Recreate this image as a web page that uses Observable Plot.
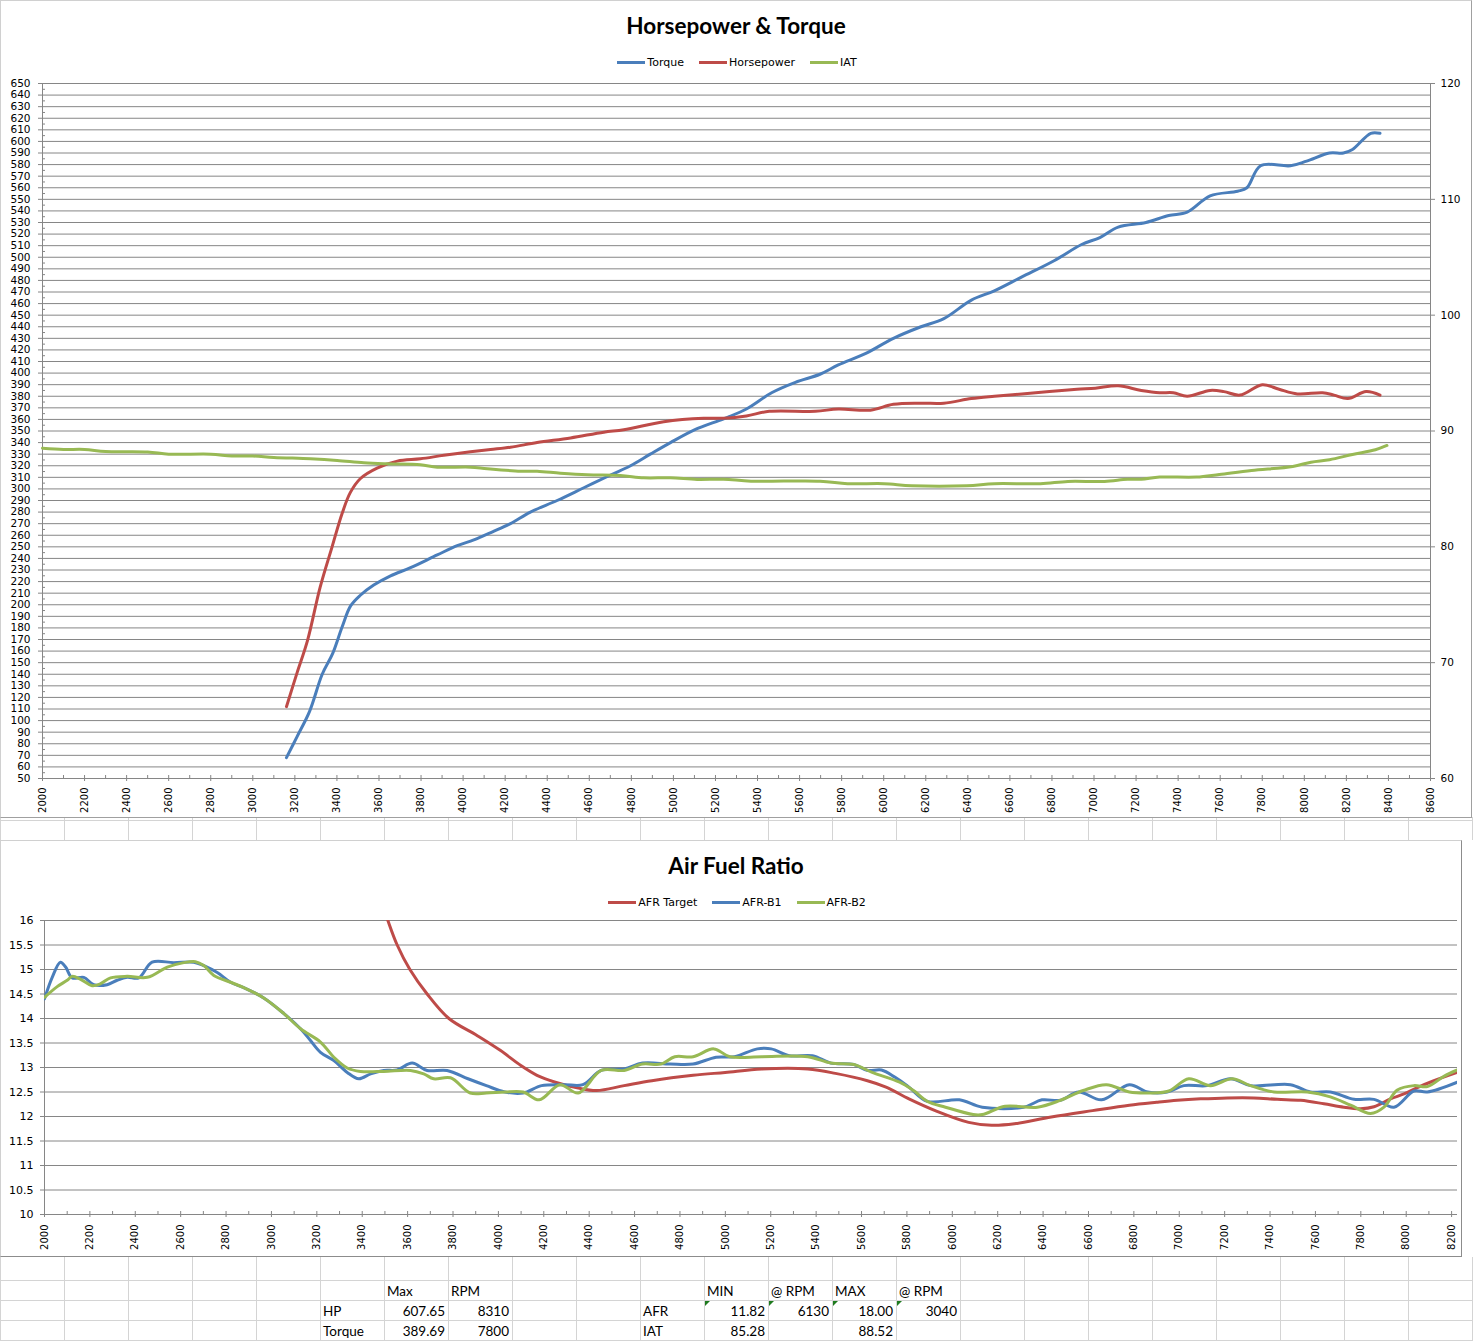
<!DOCTYPE html>
<html>
<head>
<meta charset="utf-8">
<script src="https://cdn.jsdelivr.net/npm/d3@7"></script>
<script src="https://cdn.jsdelivr.net/npm/@observablehq/plot@0.6"></script>
<style>
html,body{margin:0;padding:0;background:#fff;}
#page{position:relative;width:1473px;height:1341px;overflow:hidden;background:#fff;}
.vgrid{position:absolute;left:0;width:1473px;
  background-image:linear-gradient(to right,#d4d4d4 1px,transparent 1px);
  background-size:64px 100%;}
.hline{position:absolute;left:0;width:1473px;height:1px;background:#d4d4d4;}
.chart{position:absolute;left:0;background:#fff;}
.chart svg{position:absolute;left:0;top:0;}
.frame{position:absolute;box-sizing:border-box;pointer-events:none;}
.title{position:absolute;left:0;width:1472px;text-align:center;font:bold 22.5px/27px Lato,sans-serif;color:#000;top:12px;}
.legend{position:absolute;left:0;width:1474px;top:56px;display:flex;justify-content:center;align-items:center;font:11px/13px "DejaVu Sans",sans-serif;color:#000;}
.item{display:flex;align-items:center;margin:0 7.5px;}
.sw{width:28px;height:3px;margin-right:2px;}
.cell{position:absolute;font:13.5px/16px Lato,sans-serif;color:#000;white-space:nowrap;}
.tri{position:absolute;width:0;height:0;border-top:5px solid #1e7b1e;border-right:5px solid transparent;}
</style>
</head>
<body>
<div id="page"></div>
<script>
// ---------------- DATA ----------------
// Top chart: [rpm, value]
const torque = [[3160,68],[3210,86],[3270,108],[3330,140],[3380,158],[3425,181],[3465,199],[3510,208],[3575,217],[3655,225],[3750,232],[3877,243],[3972,251],[4051,256],[4140,263],[4225,270],[4320,280],[4447,290],[4574,301],[4701,312],[4796,320],[4890,330],[4986,340],[5100,351],[5216,359],[5260,362],[5347,369],[5467,383],[5580,392],[5697,399],[5784,407],[5915,417],[6046,430],[6177,440],[6286,447],[6417,463],[6526,471],[6657,483],[6810,497],[6941,511],[7028,517],[7115,526],[7247,530],[7355,536],[7443,539],[7552,553],[7683,557],[7727,560],[7792,579],[7934,579],[8011,583],[8120,590],[8186,590],[8229,593],[8316,607],[8360,607]];
const horsepower = [[3160,112],[3210,141],[3260,169],[3320,215],[3377,250],[3425,279],[3464,297],[3512,309],[3591,318],[3687,324],[3797,326],[3908,329],[4035,332],[4130,334],[4225,336],[4352,340],[4511,344],[4669,349],[4764,351],[4954,358],[5144,361],[5238,361],[5347,363],[5456,367],[5675,367],[5784,369],[5937,368],[6046,373],[6177,374],[6286,374],[6417,378],[6526,380],[6657,382],[6788,384],[6919,386],[7006,387],[7115,389],[7225,385],[7312,383],[7377,383],[7443,380],[7552,385],[7618,384],[7694,381],[7800,390],[7880,386],[7967,382],[8087,383],[8141,381],[8207,378],[8294,384],[8360,381]];
const iat = [[2000,88.52],[2100,88.41],[2200,88.41],[2300,88.23],[2500,88.19],[2600,88.0],[2800,88.0],[2900,87.84],[3000,87.84],[3100,87.72],[3274,87.6],[3401,87.46],[3528,87.26],[3639,87.17],[3797,87.09],[3877,86.88],[4035,86.88],[4115,86.74],[4273,86.53],[4352,86.53],[4463,86.36],[4590,86.22],[4748,86.16],[4859,85.96],[4986,85.96],[5113,85.82],[5238,85.84],[5369,85.67],[5697,85.67],[5828,85.45],[6002,85.45],[6133,85.28],[6395,85.28],[6526,85.45],[6745,85.45],[6876,85.65],[7050,85.65],[7159,85.84],[7225,85.84],[7312,86.02],[7487,86.02],[7596,86.25],[7749,86.59],[7945,86.94],[8032,87.31],[8120,87.52],[8229,87.97],[8338,88.38],[8393,88.75]];

// Bottom chart: [rpm, AFR]
const afrTarget = [[3470,16.6],[3513,16.0],[3554,15.5],[3610,15.0],[3686,14.5],[3782,14.0],[3907,13.65],[4008,13.35],[4099,13.04],[4170,12.84],[4251,12.70],[4352,12.58],[4433,12.53],[4554,12.63],[4676,12.73],[4858,12.84],[4999,12.90],[5161,12.97],[5363,12.97],[5485,12.88],[5626,12.73],[5708,12.60],[5809,12.36],[5930,12.11],[6072,11.88],[6173,11.82],[6274,11.85],[6436,11.99],[6618,12.12],[6780,12.23],[6900,12.29],[6991,12.33],[7094,12.36],[7212,12.38],[7329,12.38],[7432,12.35],[7535,12.33],[7637,12.26],[7725,12.19],[7799,12.16],[7858,12.20],[7931,12.36],[7990,12.46],[8049,12.59],[8122,12.73],[8225,12.90]];
const afrB1 = [[2000,14.40],[2034,14.84],[2070,15.15],[2093,15.05],[2122,14.83],[2173,14.84],[2217,14.69],[2276,14.69],[2320,14.78],[2364,14.84],[2416,14.83],[2474,15.15],[2570,15.14],[2658,15.15],[2702,15.08],[2761,14.94],[2820,14.74],[2878,14.63],[2966,14.42],[3055,14.10],[3128,13.79],[3172,13.55],[3216,13.31],[3275,13.14],[3334,12.90],[3385,12.77],[3437,12.87],[3495,12.94],[3554,12.95],[3620,13.09],[3686,12.94],[3774,12.94],[3866,12.77],[3947,12.63],[4028,12.50],[4109,12.48],[4190,12.63],[4291,12.65],[4372,12.65],[4453,12.94],[4554,12.97],[4635,13.09],[4757,13.07],[4858,13.07],[4959,13.21],[5040,13.22],[5141,13.38],[5202,13.38],[5282,13.24],[5384,13.24],[5465,13.09],[5566,13.06],[5627,12.94],[5688,12.95],[5748,12.80],[5809,12.60],[5890,12.31],[6031,12.34],[6132,12.19],[6314,12.19],[6395,12.34],[6476,12.33],[6557,12.50],[6658,12.34],[6780,12.65],[6861,12.50],[6947,12.50],[7020,12.63],[7123,12.63],[7226,12.77],[7314,12.63],[7490,12.65],[7578,12.50],[7666,12.50],[7770,12.35],[7858,12.35],[7946,12.19],[8034,12.52],[8093,12.50],[8225,12.70]];
const afrB2 = [[2000,14.43],[2056,14.65],[2100,14.78],[2122,14.86],[2159,14.80],[2210,14.67],[2247,14.71],[2291,14.83],[2364,14.86],[2453,14.84],[2541,15.05],[2614,15.14],[2665,15.16],[2702,15.08],[2746,14.88],[2820,14.74],[2878,14.63],[2966,14.42],[3055,14.10],[3128,13.79],[3216,13.52],[3275,13.21],[3334,12.99],[3392,12.92],[3495,12.92],[3613,12.94],[3671,12.87],[3715,12.77],[3789,12.79],[3876,12.48],[3947,12.48],[4028,12.50],[4109,12.50],[4180,12.34],[4271,12.65],[4352,12.48],[4453,12.94],[4554,12.94],[4635,13.07],[4716,13.07],[4777,13.22],[4858,13.22],[4949,13.38],[5020,13.22],[5161,13.22],[5363,13.22],[5465,13.09],[5566,13.06],[5647,12.90],[5768,12.70],[5829,12.53],[5890,12.31],[5970,12.19],[6092,12.04],[6132,12.04],[6233,12.21],[6375,12.19],[6476,12.33],[6577,12.53],[6679,12.65],[6780,12.50],[6874,12.48],[6954,12.52],[7042,12.77],[7138,12.63],[7233,12.77],[7314,12.63],[7417,12.50],[7564,12.50],[7666,12.40],[7755,12.23],[7843,12.06],[7902,12.19],[7961,12.54],[8034,12.63],[8093,12.61],[8166,12.82],[8225,12.95]];

// Ticks
const rpmTicksTop = d3.range(2000, 8601, 200);
const rpmMinorTop = d3.range(2000, 8601, 100);
const hpTicks = d3.range(50, 651, 10);
const hpMinor = d3.range(55, 650, 10);
const iatTicks = [60, 70, 80, 90, 100, 110, 120];
const rpmTicksBottom = d3.range(2000, 8201, 200);
const rpmMinorBottom = d3.range(2000, 8226, 100);
const afrTicks = [10, 10.5, 11, 11.5, 12, 12.5, 13, 13.5, 14, 14.5, 15, 15.5, 16];

// Titles / legends
const topTitle = "Horsepower & Torque";
const topLegend = [["Torque", "#4A7EBB"], ["Horsepower", "#BE4B48"], ["IAT", "#98B954"]];
const bottomTitle = "Air Fuel Ratio";
const bottomLegend = [["AFR Target", "#BE4B48"], ["AFR-B1", "#4A7EBB"], ["AFR-B2", "#98B954"]];

// Spreadsheet summary
const hpHeader = ["Max", "RPM"];
const hpRows = [["HP", "607.65", "8310"], ["Torque", "389.69", "7800"]];
const afrHeader = ["MIN", "@ RPM", "MAX", "@ RPM"];
const afrRows = [["AFR", "11.82", "6130", "18.00", "3040"], ["IAT", "85.28", "", "88.52", ""]];

// ---------------- LAYOUT ----------------
const BLUE = "#4A7EBB", RED = "#BE4B48", GREEN = "#98B954", GRID = "#868686";
const iatToLeft = v => 50 + (v - 60) * 10;
const page = document.getElementById("page");
const el = (tag, cls, css, txt) => { const e = document.createElement(tag); if (cls) e.className = cls; if (css) Object.assign(e.style, css); if (txt != null) e.textContent = txt; return e; };

// spreadsheet grid areas
page.appendChild(el("div", "vgrid", {top: "817px", height: "23px"}));
page.appendChild(el("div", "vgrid", {top: "1257px", height: "84px"}));
[820, 1280, 1300, 1320, 1340].forEach(y => page.appendChild(el("div", "hline", {top: y + "px"})));

const baseStyle = {background: "transparent", maxWidth: "none", overflow: "visible", fontFamily: "'DejaVu Sans', sans-serif", fontSize: "10px", color: "#000"};

function addChart(top, w, h, title, legendItems, svg, borderColor) {
  const c = el("div", "chart", {top: top + "px", width: w + "px", height: h + "px"});
  c.appendChild(svg);
  c.appendChild(el("div", "title", null, title));
  const lg = el("div", "legend");
  legendItems.forEach(([name, col]) => {
    const it = el("div", "item");
    it.appendChild(el("div", "sw", {background: col}));
    it.appendChild(el("span", null, null, name));
    lg.appendChild(it);
  });
  c.appendChild(lg);
  c.appendChild(el("div", "frame", {left: "0", top: "0", width: w + "px", height: h + "px",
    borderTop: "1px solid #d0d0d0", borderLeft: "1px solid #d0d0d0",
    borderRight: "1px solid " + borderColor, borderBottom: "1px solid " + borderColor}));
  page.appendChild(c);
}

const lineOpts = (stroke, extra) => Object.assign({x: d => d[0], y: d => d[1], stroke, strokeWidth: 3, curve: "catmull-rom", strokeLinecap: "round", strokeLinejoin: "round"}, extra || {});

const topPlot = Plot.plot({
  width: 1472, height: 818,
  marginLeft: 42, marginRight: 42, marginTop: 83, marginBottom: 40,
  x: {domain: [2000, 8600]},
  y: {domain: [50, 650]},
  style: baseStyle,
  marks: [
    Plot.gridY(hpTicks, {stroke: GRID, strokeOpacity: 1}),
    Plot.ruleX([2000, 8600], {stroke: GRID}),
    Plot.axisY({ticks: hpTicks, tickSize: 4, tickPadding: 8, stroke: GRID, fill: "#000", fontSize: 10.5, tickFormat: d => String(d), label: null}),
    Plot.axisY({ticks: hpMinor, tickSize: 3, dx: 3, stroke: GRID, fill: "none", label: null}),
    Plot.axisY({anchor: "right", ticks: iatTicks.map(iatToLeft), tickSize: 4, tickPadding: 6, stroke: GRID, fill: "#000", fontSize: 10.5, tickFormat: d => String(60 + (d - 50) / 10), label: null}),
    Plot.axisX({ticks: rpmTicksTop, tickSize: 3, tickPadding: 6, tickRotate: -90, stroke: GRID, fill: "#000", fontSize: 10, tickFormat: d => String(d), label: null}),
    Plot.axisX({ticks: rpmMinorTop, tickSize: 3, dy: -3, stroke: GRID, fill: "none", label: null}),
    Plot.line(torque, lineOpts(BLUE)),
    Plot.line(horsepower, lineOpts(RED)),
    Plot.line(iat, lineOpts(GREEN, {y: d => iatToLeft(d[1])}))
  ]
});
addChart(0, 1472, 818, topTitle, topLegend, topPlot, "#a0a0a0");

const bottomPlot = Plot.plot({
  width: 1462, height: 417,
  marginLeft: 44, marginRight: 5, marginTop: 80, marginBottom: 43,
  x: {domain: [2000, 8226]},
  y: {domain: [10, 16]},
  style: baseStyle,
  marks: [
    Plot.gridY(afrTicks, {stroke: GRID, strokeOpacity: 1}),
    Plot.ruleX([2000], {stroke: GRID}),
    Plot.axisY({ticks: afrTicks, tickSize: 4, tickPadding: 7, stroke: GRID, fill: "#000", fontSize: 11, tickFormat: d => String(d), label: null}),
    Plot.axisX({ticks: rpmTicksBottom, tickSize: 3, tickPadding: 7, tickRotate: -90, stroke: GRID, fill: "#000", fontSize: 10, tickFormat: d => String(d), label: null}),
    Plot.axisX({ticks: rpmMinorBottom, tickSize: 3, dy: -3, stroke: GRID, fill: "none", label: null}),
    Plot.line(afrTarget, lineOpts(RED, {clip: true})),
    Plot.line(afrB1, lineOpts(BLUE, {clip: true})),
    Plot.line(afrB2, lineOpts(GREEN, {clip: true}))
  ]
});
addChart(840, 1462, 417, bottomTitle, bottomLegend, bottomPlot, "#8c8c8c");

// spreadsheet cells
function cell(col, rowTop, text, align) {
  if (!text) return;
  const css = {top: (rowTop + 3) + "px"};
  if (align === "right") { css.left = (64 * col) + "px"; css.width = "61px"; css.textAlign = "right"; }
  else { css.left = (64 * col + 3) + "px"; }
  page.appendChild(el("div", "cell", css, text));
}
hpHeader.forEach((t, i) => cell(6 + i, 1280, t));
hpRows.forEach((r, j) => { cell(5, 1300 + 20 * j, r[0]); cell(6, 1300 + 20 * j, r[1], "right"); cell(7, 1300 + 20 * j, r[2], "right"); });
afrHeader.forEach((t, i) => cell(11 + i, 1280, t));
afrRows.forEach((r, j) => { cell(10, 1300 + 20 * j, r[0]); r.slice(1).forEach((v, i) => cell(11 + i, 1300 + 20 * j, v, "right")); });
[11, 12, 13, 14].forEach(c => page.appendChild(el("div", "tri", {left: (64 * c + 1) + "px", top: "1301px"})));
</script>
</body>
</html>
